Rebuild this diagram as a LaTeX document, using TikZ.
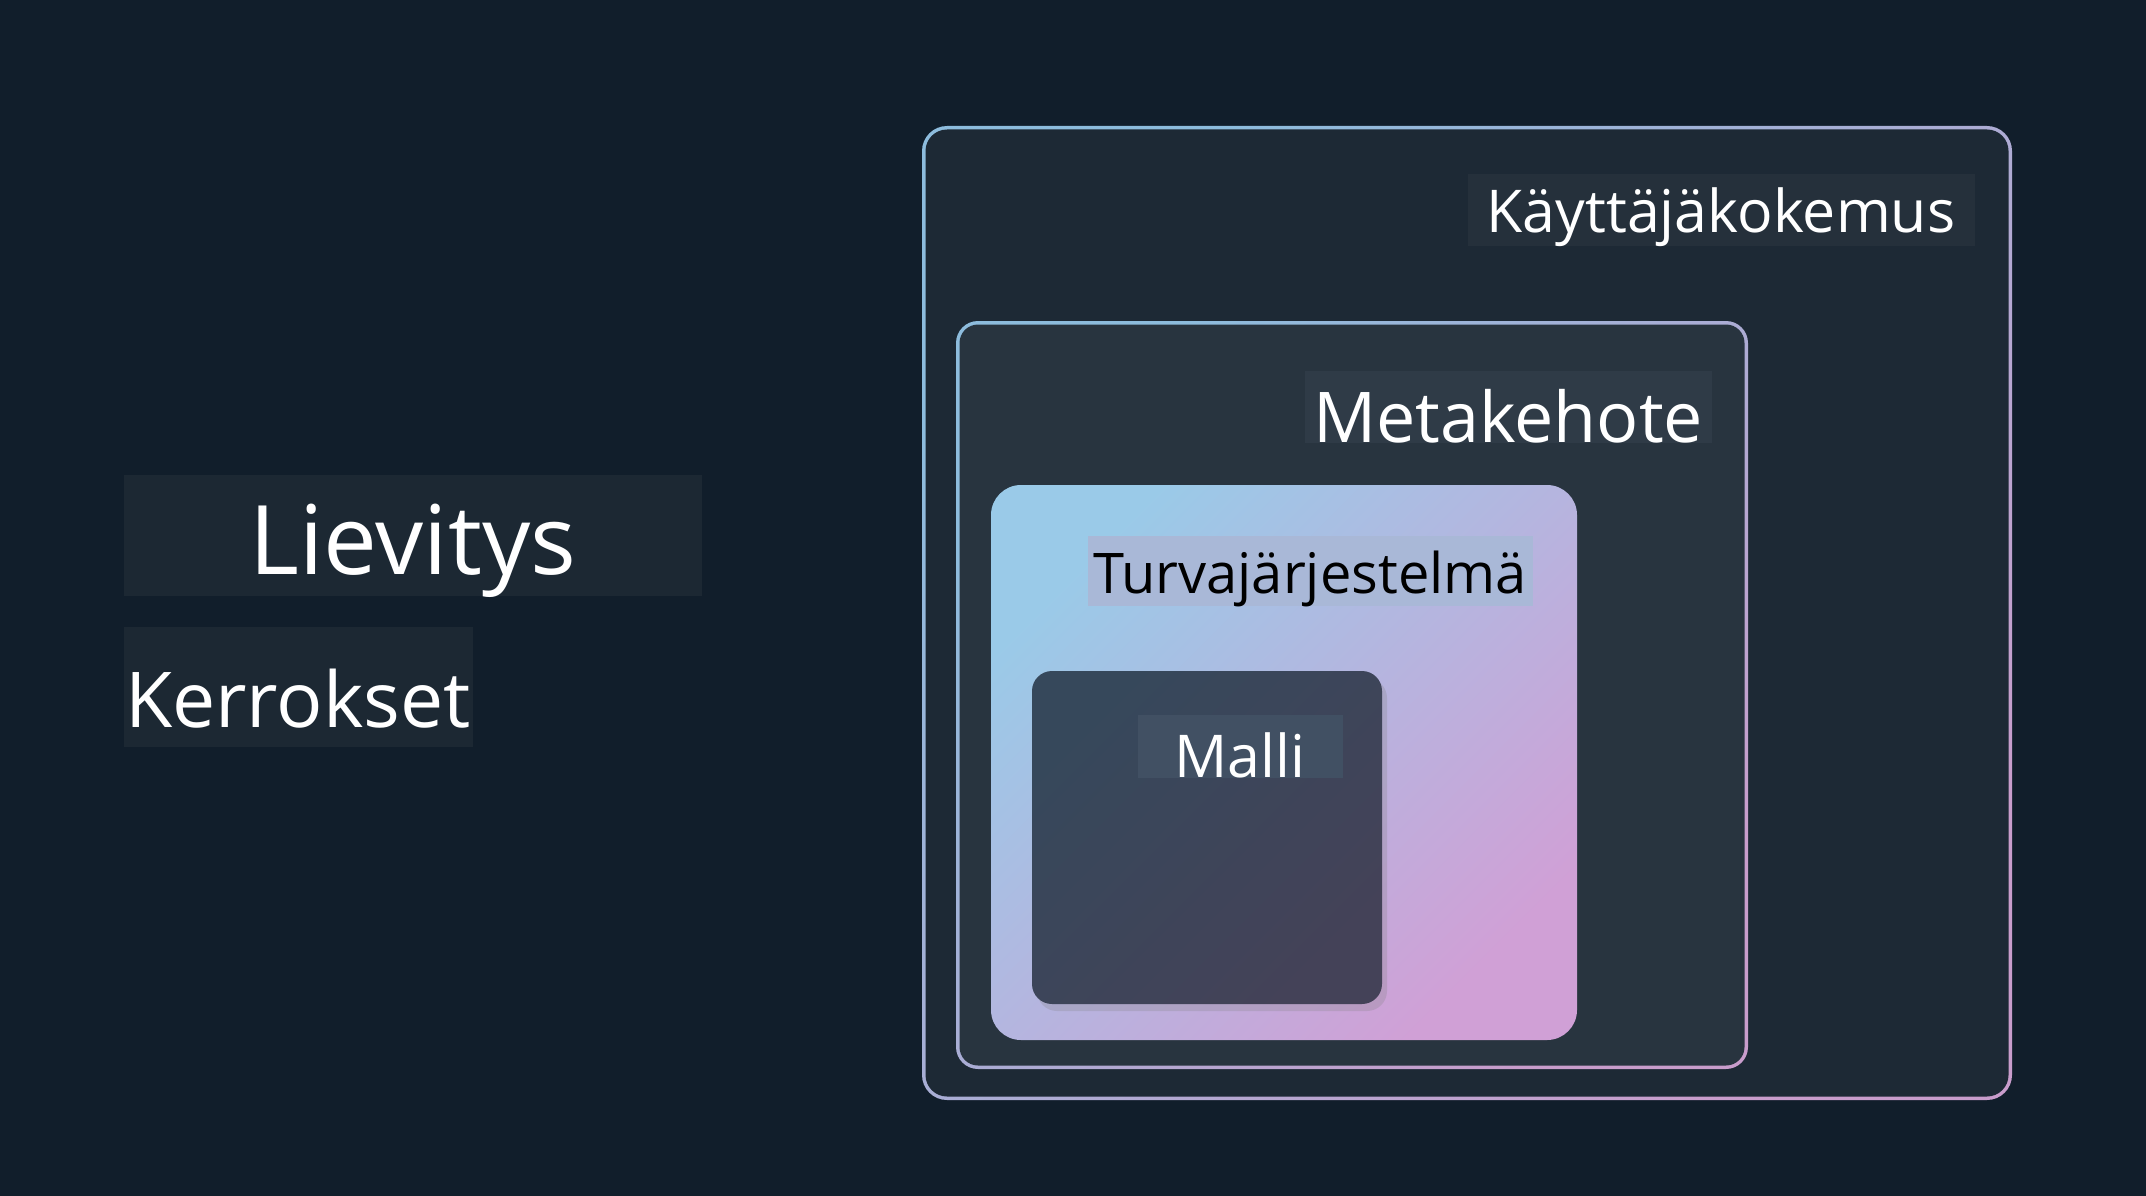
\documentclass[tikz,border=0pt]{standalone}
\usepackage{fontspec}
\setmainfont{Open Sans}
\usetikzlibrary{shadows}

\definecolor{bgdark}{HTML}{111E2B}
\definecolor{rimblue}{HTML}{8DBCDD}
\definecolor{rimpink}{HTML}{C99DCC}
\definecolor{uxfill}{HTML}{1D2935}
\definecolor{metafill}{HTML}{28343F}
\definecolor{safeblue}{HTML}{9ACAE8}
\definecolor{safepink}{HTML}{D0A0D6}
\definecolor{modeltop}{HTML}{36485B}
\definecolor{modelbot}{HTML}{444258}
\definecolor{uxlbl}{HTML}{25303B}
\definecolor{metalbl}{HTML}{2F3B47}
\definecolor{safelbl}{HTML}{A9B8D7}
\definecolor{modellbl}{HTML}{415063}
\definecolor{sidelbl}{HTML}{1C2833}

\begin{document}
\begin{tikzpicture}[x=1pt, y=-1pt,
    rim/.style={rectangle, inner sep=0pt, rounded corners=#1,
      top color=rimblue, bottom color=rimpink, shading angle=45},
    pane/.style={rectangle, inner sep=0pt, rounded corners=#1},
    lbl/.style={fill=#1, inner sep=0pt, anchor=base, text=white}]

  \fill[bgdark] (0,0) rectangle (2146,1196);
  \useasboundingbox (0,0) rectangle (2146,1196);

  % layers, outside in
  \node[rim=25pt, minimum width=1090pt, minimum height=974pt] (uxrim) at (1467,613) {};
  \node[pane=21.5pt, fill=uxfill, minimum width=1083pt, minimum height=967pt] (ux) at (uxrim.center) {};

  \node[rim=22pt, minimum width=792pt, minimum height=748pt] (metarim) at (1352,695) {};
  \node[pane=18.5pt, fill=metafill, minimum width=785pt, minimum height=741pt] (meta) at (metarim.center) {};

  \node[pane=30pt, top color=safeblue, bottom color=safepink, shading angle=45,
    minimum width=586pt, minimum height=555pt] (safe) at (1284,762.5) {};

  \node[pane=20pt, top color=modeltop, bottom color=modelbot, shading angle=45,
    drop shadow={shadow xshift=5pt, shadow yshift=-7pt, opacity=0.25},
    minimum width=350pt, minimum height=333pt] (model) at (1207,837.5) {};

  % labels
  \node[lbl=uxlbl, minimum width=507pt, text height=58pt, text depth=14pt,
    font=\fontsize{59}{70}\selectfont] (uxtxt) at (1721,232) {Käyttäjäkokemus};
  \node[lbl=metalbl, minimum width=407pt, text height=71pt, text depth=1pt,
    font=\fontsize{70}{84}\selectfont] (metatxt) at (1508,442) {Metakehote};
  \node[lbl=safelbl, text=black, minimum width=445pt, text height=57pt, text depth=13pt,
    font=\fontsize{56}{67}\selectfont] (safetxt) at (1310,593) {Turvajärjestelmä};
  \node[lbl=modellbl, minimum width=205pt, text height=62pt, text depth=1pt,
    font=\fontsize{59}{70}\selectfont] (modeltxt) at (1240,777) {Malli};

  \node[lbl=sidelbl, minimum width=578pt, text height=99pt, text depth=22pt,
    font=\fontsize{96}{115}\selectfont] (deploy) at (413,574) {Lievitys};
  \node[lbl=sidelbl, minimum width=349pt, text height=100pt, text depth=20pt,
    font=\fontsize{77}{92}\selectfont] (layers) at (298,727) {Kerrokset};
\end{tikzpicture}
\end{document}
